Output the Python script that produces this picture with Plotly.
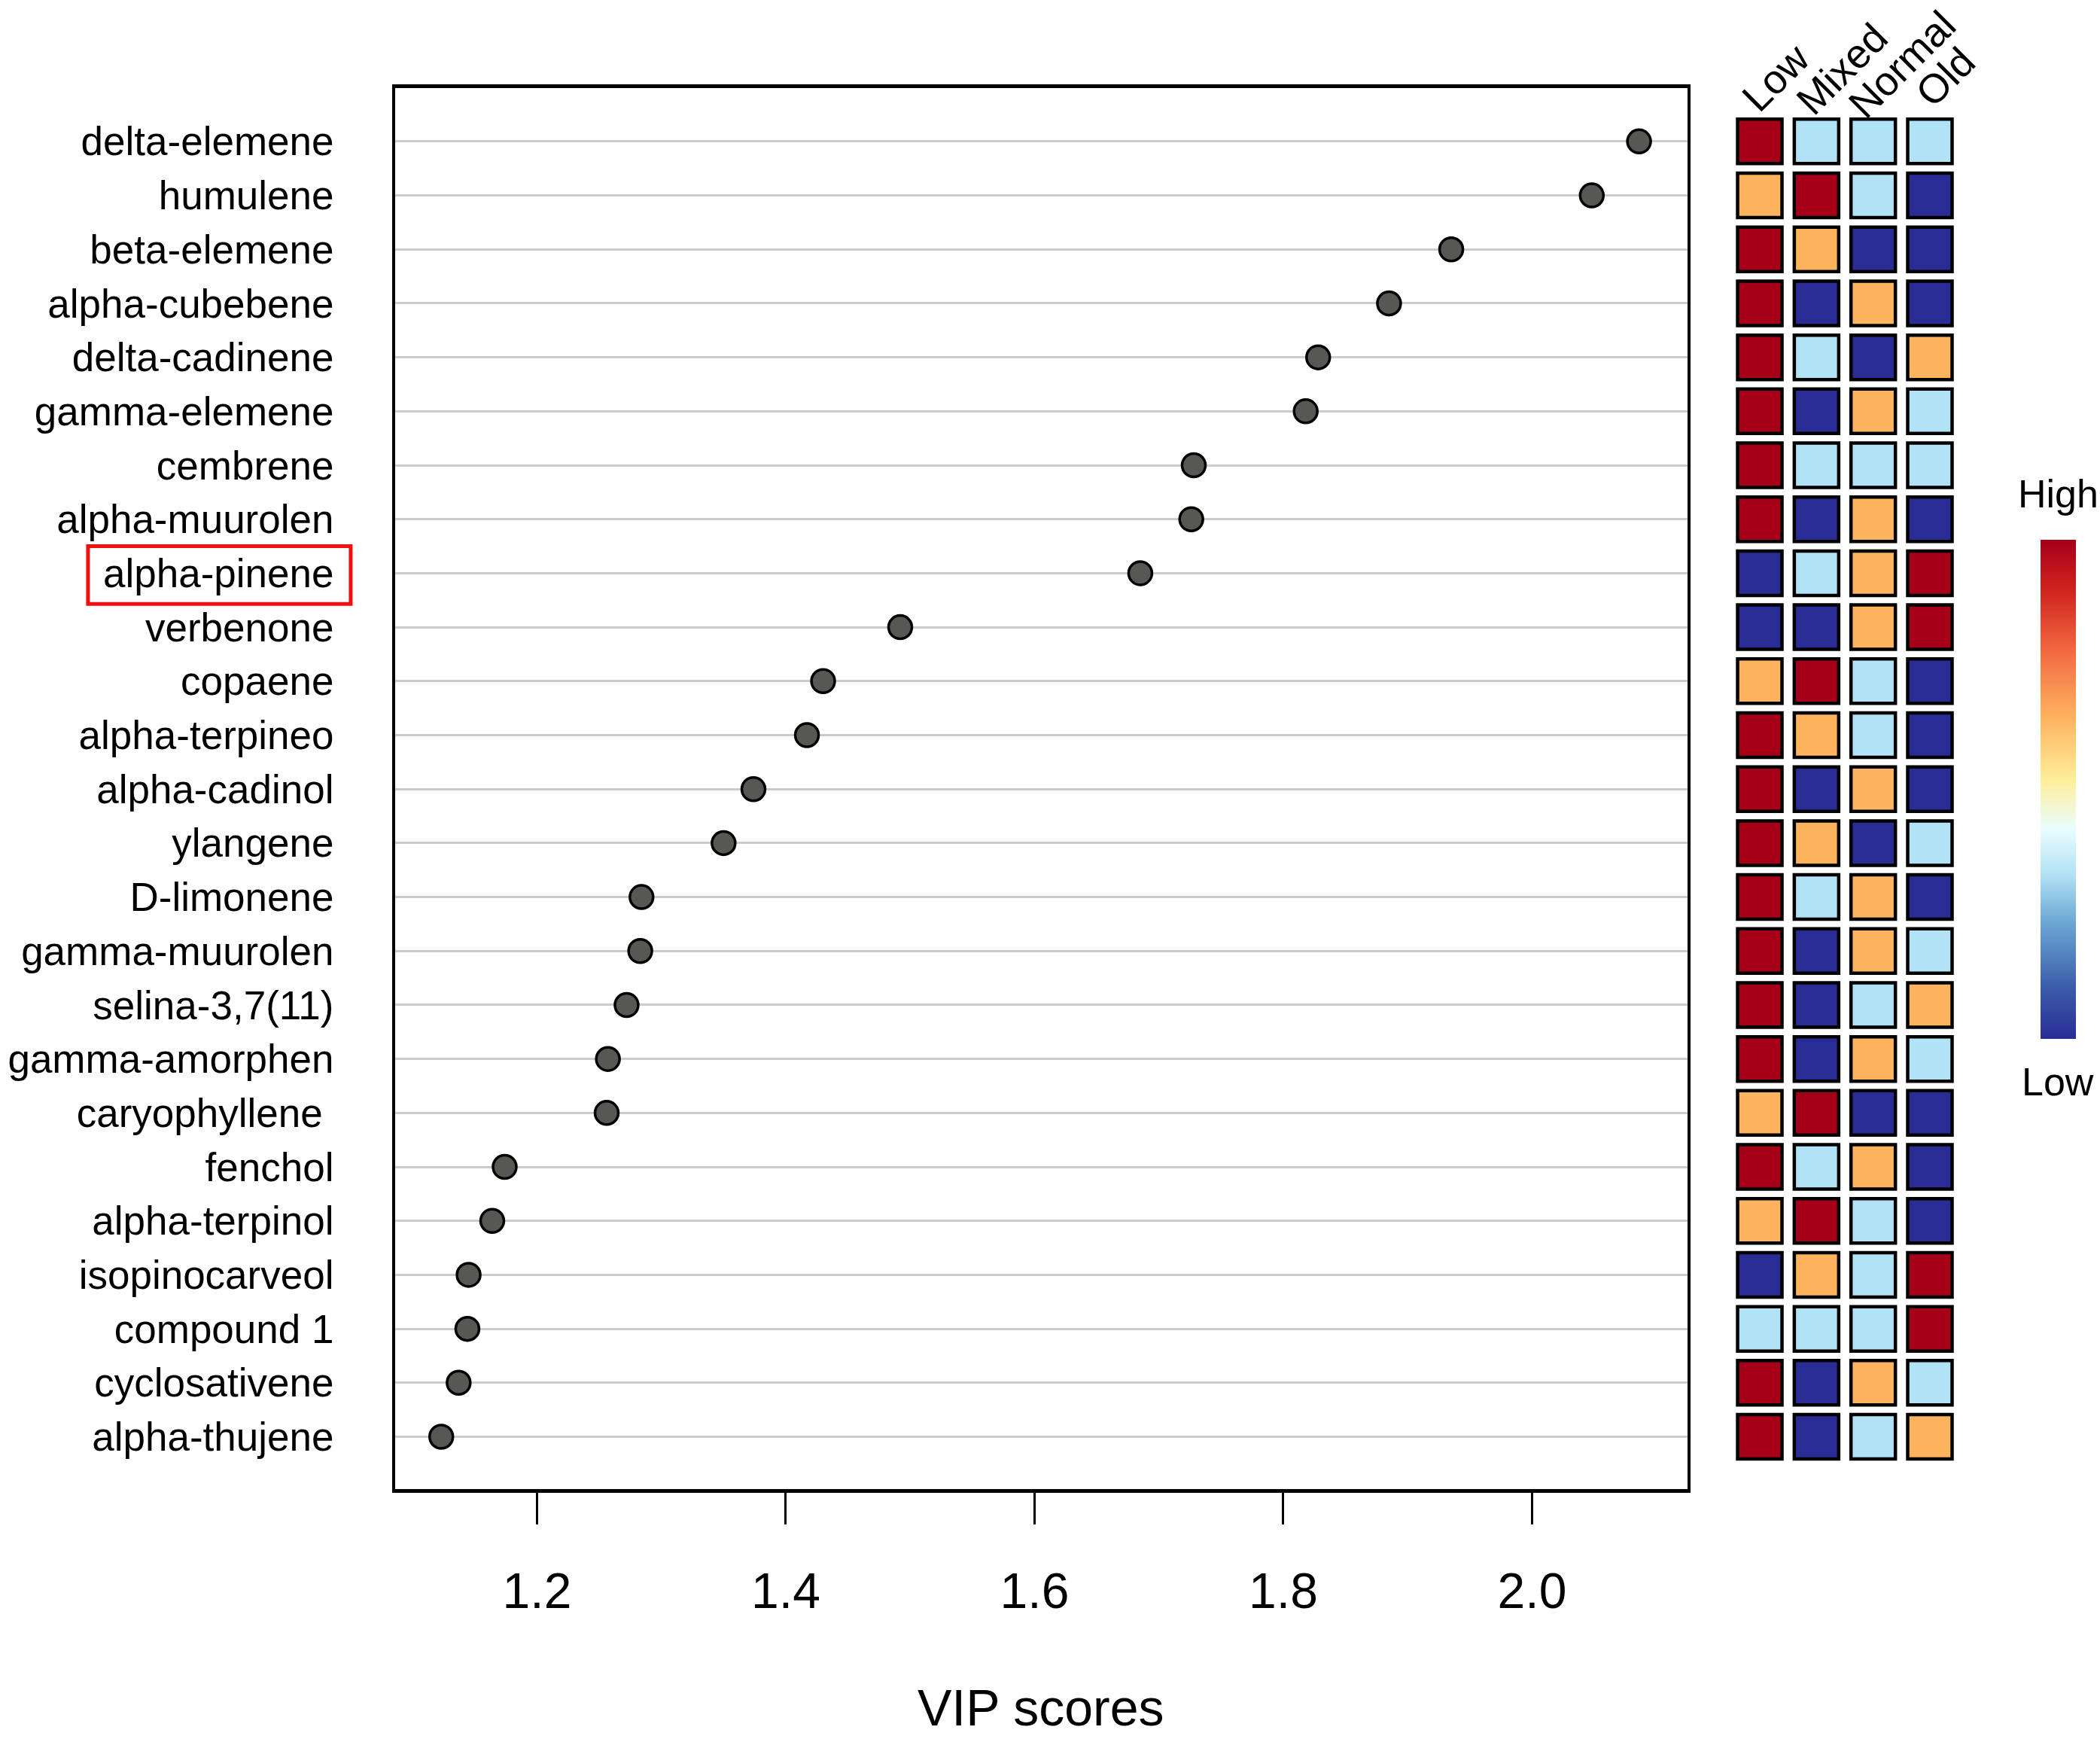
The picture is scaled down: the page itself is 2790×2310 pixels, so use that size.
import plotly.graph_objects as go

# compounds, top to bottom
compounds = [
    "delta-elemene", "humulene", "beta-elemene", "alpha-cubebene", "delta-cadinene",
    "gamma-elemene", "cembrene", "alpha-muurolen", "alpha-pinene", "verbenone",
    "copaene", "alpha-terpineo", "alpha-cadinol", "ylangene", "D-limonene",
    "gamma-muurolen", "selina-3,7(11)", "gamma-amorphen", "caryophyllene\u00a0", "fenchol",
    "alpha-terpinol", "isopinocarveol", "compound 1", "cyclosativene", "alpha-thujene",
]
vip_scores = [
    2.086, 2.048, 1.935, 1.885, 1.828,
    1.818, 1.728, 1.726, 1.685, 1.492,
    1.430, 1.417, 1.374, 1.350, 1.284,
    1.283, 1.272, 1.257, 1.256, 1.174,
    1.164, 1.145, 1.144, 1.137, 1.123,
]
groups = ["Low", "Mixed", "Normal", "Old"]
# relative level per group: 1 = lowest ... 4 = highest
levels = [
    [4, 2, 2, 2], [3, 4, 2, 1], [4, 3, 1, 1], [4, 1, 3, 1], [4, 2, 1, 3],
    [4, 1, 3, 2], [4, 2, 2, 2], [4, 1, 3, 1], [1, 2, 3, 4], [1, 1, 3, 4],
    [3, 4, 2, 1], [4, 3, 2, 1], [4, 1, 3, 1], [4, 3, 1, 2], [4, 2, 3, 1],
    [4, 1, 3, 2], [4, 1, 2, 3], [4, 1, 3, 2], [3, 4, 1, 1], [4, 2, 3, 1],
    [3, 4, 2, 1], [1, 3, 2, 4], [2, 2, 2, 4], [4, 1, 3, 2], [4, 1, 2, 3],
]
x_ticks = [1.2, 1.4, 1.6, 1.8, 2.0]
highlight = "alpha-pinene"

FONT = "Liberation Sans, Arial, sans-serif"
LEVEL_POS = {1: 0.0, 2: 0.33, 3: 0.64, 4: 1.0}
COLORSCALE = [
    [0.0, "#2A2C96"], [0.1, "#3B5BA9"], [0.23, "#6AA6D3"], [0.33, "#B2E2F5"],
    [0.42, "#E8FDFF"], [0.52, "#FFEE99"], [0.64, "#FEB45F"], [0.77, "#F46D43"],
    [0.9, "#D0231F"], [1.0, "#A60019"],
]

order = compounds[::-1]

# heatmap cells as bordered squares
hx, hy, hc = [], [], []
for name, row in zip(compounds, levels):
    for g, lv in zip(groups, row):
        hx.append(g)
        hy.append(name)
        hc.append(LEVEL_POS[lv])

fig = go.Figure()

fig.add_trace(go.Scatter(
    x=vip_scores, y=compounds, mode="markers",
    marker=dict(size=31, color="#575753", line=dict(color="black", width=3.5)),
    xaxis="x", yaxis="y", showlegend=False,
))

fig.add_trace(go.Scatter(
    x=hx, y=hy, mode="markers",
    marker=dict(
        symbol="square", size=59, color=hc, cmin=0, cmax=1,
        colorscale=COLORSCALE, line=dict(color="black", width=4.5),
        showscale=True,
        colorbar=dict(
            x=0.9717, xanchor="left", xpad=0, ypad=0,
            y=0.5461, yanchor="middle", len=0.287, thickness=47,
            showticklabels=False, ticks="", outlinewidth=0,
        ),
    ),
    xaxis="x2", yaxis="y2", showlegend=False,
))

ycommon = dict(
    type="category", categoryorder="array", categoryarray=order,
    range=[-0.97, 24.99], domain=[0.1437, 0.9494],
)

fig.update_layout(
    width=2790, height=2310,
    margin=dict(l=0, r=0, t=0, b=0),
    plot_bgcolor="white", paper_bgcolor="white",
    font=dict(family=FONT, color="black"),
    xaxis=dict(
        domain=[0.1882, 0.8036], range=[1.086, 2.125],
        tickvals=x_ticks, ticktext=[f"{v:.1f}" for v in x_ticks],
        ticks="outside", ticklen=42, tickwidth=3, tickcolor="black",
        tickfont=dict(size=66), ticklabelstandoff=32,
        showgrid=False, zeroline=False,
        showline=True, linecolor="black", linewidth=4.5, mirror=True,
        anchor="y",
    ),
    yaxis=dict(
        **ycommon,
        anchor="x",
        showgrid=True, gridcolor="#CCCCCC", gridwidth=3,
        ticks="", tickfont=dict(size=53), ticklabelstandoff=67,
        showline=True, linecolor="black", linewidth=4, mirror=True,
    ),
    xaxis2=dict(
        domain=[0.8245, 0.9325], range=[-0.5, 3.5],
        type="category", categoryorder="array", categoryarray=groups,
        visible=False, anchor="y2",
    ),
    yaxis2=dict(**ycommon, anchor="x2", visible=False),
)

# highlighted compound label
hi = order.index(highlight)
fig.add_shape(
    type="rect", xref="paper", yref="y",
    x0=0.0419, x1=0.167, y0=hi - 0.57, y1=hi + 0.5,
    line=dict(color="#F01010", width=5),
)

# rotated column labels
label_pos = [(0.8454, 0.9555), (0.8772, 0.9605), (0.9058, 0.9630), (0.9262, 0.9560)]
for g, (px, py) in zip(groups, label_pos):
    fig.add_annotation(
        text=g, xref="paper", yref="paper", x=px, y=py,
        xanchor="center", yanchor="middle", textangle=-45,
        showarrow=False, font=dict(size=54),
    )

fig.add_annotation(text="High", xref="paper", yref="paper", x=0.98, y=0.716,
                   xanchor="center", yanchor="middle",
                   showarrow=False, font=dict(size=52))
fig.add_annotation(text="Low", xref="paper", yref="paper", x=0.98, y=0.378,
                   xanchor="center", yanchor="middle",
                   showarrow=False, font=dict(size=52))
fig.add_annotation(text="VIP scores", xref="paper", yref="paper", x=0.4957, y=0.018,
                   xanchor="center", yanchor="middle",
                   showarrow=False, font=dict(size=68))

fig.write_html(
    "out.html",
    config={"displayModeBar": False},
    post_script="document.body.style.margin='0';document.body.style.overflow='hidden';",
)
